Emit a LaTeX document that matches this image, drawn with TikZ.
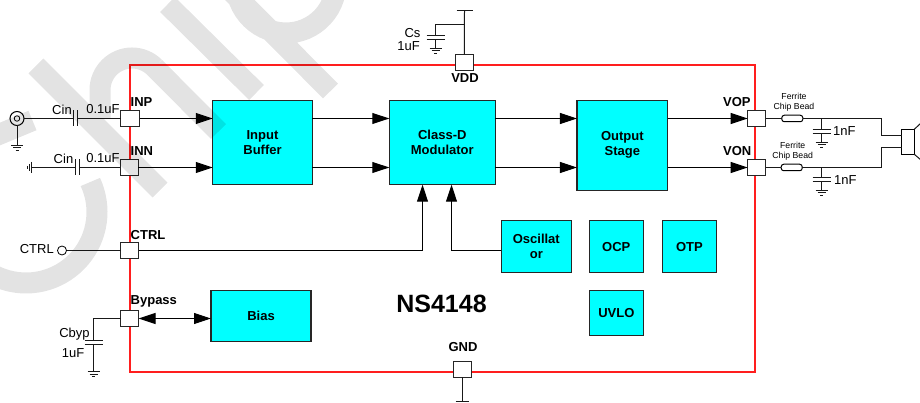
\documentclass[tikz,border=0pt]{standalone}
\usepackage{fontspec}
\setmainfont{Liberation Sans}
\usetikzlibrary{arrows.meta}
\definecolor{blockcyan}{RGB}{0,255,255}
\definecolor{chipred}{RGB}{255,30,30}
\tikzset{
  blockbox/.style={draw=black!85, fill=blockcyan, line width=1.1pt, inner sep=0pt, outer sep=0pt, align=center,
    font=\bfseries\fontsize{13}{15}\selectfont},
  pinbox/.style={draw=black!85, fill=white, line width=1pt, inner sep=0pt, outer sep=0pt, minimum width=18pt, minimum height=16pt},
  pinlabel/.style={inner sep=0pt, font=\bfseries\fontsize{13}{15}\selectfont},
  partlabel/.style={inner sep=0pt, font=\fontsize{13}{15}\selectfont},
  beadlabel/.style={inner sep=0pt, align=center, font=\fontsize{8.7}{10}\selectfont},
  bead/.style={draw, fill=white, line width=1pt, rounded corners=2.5pt, inner sep=0pt, outer sep=0pt, minimum width=21pt, minimum height=6.5pt},
  wire/.style={line width=1pt, black!90},
  sig/.style={line width=1pt, black, -{Triangle[length=17pt,width=11pt]}},
  wmark/.style={line width=21pt, black, opacity=0.11}
}
\begin{document}
\begin{tikzpicture}[x=1pt, y=-1pt]
    \useasboundingbox (0,0) rectangle (920,403);
    % chip outline
    \node[draw=chipred, line width=1.2pt, inner sep=0pt, outer sep=0pt, minimum width=625pt, minimum height=307pt] (chip) at (442.5,218.5) {};
    % blocks
    \node[blockbox, minimum width=99.5pt, minimum height=84pt] (inbuf) at (262.5,142.3) {Input\\Buffer};
    \node[blockbox, minimum width=106pt, minimum height=84.4pt] (classd) at (442.3,142.5) {Class-D\\Modulator};
    \node[blockbox, minimum width=90.7pt, minimum height=90pt] (outstage) at (622.3,145.3) {Output\\Stage};
    \node[blockbox, minimum width=70pt, minimum height=51.3pt] (osc) at (536.3,246.6) {Oscillat\\or};
    \node[blockbox, minimum width=54pt, minimum height=51.3pt] (ocp) at (616.3,246.6) {OCP};
    \node[blockbox, minimum width=53.3pt, minimum height=51.3pt] (otp) at (689.4,246.6) {OTP};
    \node[blockbox, minimum width=54pt, minimum height=45.4pt] (uvlo) at (616.3,313) {UVLO};
    \node[blockbox, minimum width=100pt, minimum height=51.4pt] (bias) at (261,316) {Bias};
    \node[inner sep=0pt, font=\bfseries\fontsize{25}{28}\selectfont] (title) at (441.5,304) {NS4148};
    % pins
    \node[pinbox, minimum width=19pt] (inp) at (130,118.5) {};
    \node[pinbox] (inn) at (129,167.5) {};
    \node[pinbox] (ctrl) at (129.5,250.5) {};
    \node[pinbox] (byp) at (129.5,318.5) {};
    \node[pinbox] (vdd) at (464.3,62.7) {};
    \node[pinbox] (gnd) at (462,369) {};
    \node[pinbox] (vop) at (756.7,118.5) {};
    \node[pinbox] (von) at (756.7,167.5) {};
    \node[pinlabel, anchor=west] (inplabel) at (130.5,102) {INP};
    \node[pinlabel, anchor=west] (innlabel) at (130.5,151) {INN};
    \node[pinlabel, anchor=west] (ctrllabel) at (130.5,235) {CTRL};
    \node[pinlabel, anchor=west] (byplabel) at (130.5,301) {Bypass};
    \node[pinlabel] (vddlabel) at (465,78) {VDD};
    \node[pinlabel] (gndlabel) at (463,347) {GND};
    \node[pinlabel, anchor=west] (voplabel) at (723,102) {VOP};
    \node[pinlabel, anchor=west] (vonlabel) at (723,151) {VON};
    % signal path
    \draw[sig] (inp.east) -- (inbuf.west |- inp);
    \draw[sig] (inn.east) -- (inbuf.west |- inn);
    \draw[sig] (inbuf.east |- inp) -- (classd.west |- inp);
    \draw[sig] (inbuf.east |- inn) -- (classd.west |- inn);
    \draw[sig] (classd.east |- inp) -- (outstage.west |- inp);
    \draw[sig] (classd.east |- inn) -- (outstage.west |- inn);
    \draw[sig] (outstage.east |- vop) -- (vop.west);
    \draw[sig] (outstage.east |- von) -- (von.west);
    \coordinate (ctrlup) at (422.5,250.5);
    \coordinate (oscup) at (451.5,250.5);
    \draw[sig] (ctrl.east) -- (ctrlup) -- (ctrlup |- classd.south);
    \draw[sig] (osc.west |- oscup) -- (oscup) -- (oscup |- classd.south);
    \draw[line width=1pt, black, {Triangle[length=17pt,width=11pt]}-{Triangle[length=17pt,width=11pt]}] (byp.east) -- (bias.west |- byp);
    % input side
    \node[circle, draw, line width=1pt, inner sep=0pt, outer sep=0pt, minimum size=14pt] (src) at (17,118.5) {};
    \node[circle, draw, line width=0.8pt, inner sep=0pt, minimum size=5.5pt] (srcdot) at (src) {};
    \foreach \x/\y in {73.5/118.5,75.5/167.5}
        \draw[wire] (\x,\y-8) -- (\x,\y+8) (\x+4.4,\y-8) -- (\x+4.4,\y+8);
    \coordinate (cinpa) at (73.5,118.5);
    \coordinate (cinpb) at (77.9,118.5);
    \coordinate (cinna) at (75.5,167.5);
    \coordinate (cinnb) at (79.9,167.5);
    \coordinate (srcgnd) at (17,145);
    \coordinate (inngnd) at (31.5,167.5);
    \draw[wire] (src.east) -- (cinpa);
    \draw[wire] (cinpb) -- (inp.west);
    \draw[wire] (src.south) -- (srcgnd);
    \draw[wire] (inngnd) -- (cinna);
    \draw[wire] (cinnb) -- (inn.west);
    \draw[wire] (inngnd) ++(0,-5.5) -- ++(0,11) (inngnd) ++(-2,-3.5) -- ++(0,7) (inngnd) ++(-4,-1.5) -- ++(0,3);
    \node[partlabel] (cinplabel) at (62,110) {Cin};
    \node[partlabel] (cfplabel) at (103,109.5) {0.1uF};
    \node[partlabel] (cinnlabel) at (63.5,159) {Cin};
    \node[partlabel] (cfnlabel) at (103,158) {0.1uF};
    \node[partlabel, anchor=east] (ctrltext) at (54,249) {CTRL};
    \node[circle, draw, line width=0.8pt, inner sep=0pt, outer sep=0pt, minimum size=9pt] (ctrlin) at (62,250.5) {};
    \draw[wire] (ctrlin.east) -- (ctrl.west);
    % bypass and supply caps, and the output filter caps
    \foreach \x/\y in {93.5/340,435.5/35.5,821.5/129.5,821.5/177.5}
        \draw[wire] (\x-9,\y) -- (\x+9,\y) (\x-9,\y+4) -- (\x+9,\y+4);
    \foreach \x/\y in {17/145.5,93.5/371.5,435.5/48.5,821.5/142.5,821.5/190.5}
        \draw[wire, xshift=\x pt, yshift=-\y pt] (-6,0) -- (6,0) (-4,2.5) -- (4,2.5) (-1.5,5) -- (1.5,5);
    \coordinate (cbyptop) at (93.5,340);
    \coordinate (cbypbot) at (93.5,344);
    \coordinate (cbypgnd) at (93.5,371.5);
    \draw[wire] (byp.west) -| (cbyptop);
    \draw[wire] (cbypbot) -- (cbypgnd);
    \node[partlabel, anchor=base] (cbyplabel) at (74.5,337) {Cbyp};
    \node[partlabel] (cbypval) at (73,353) {1uF};
    \coordinate (vddtop) at (464.5,11);
    \coordinate (csjoin) at (464.5,24.5);
    \coordinate (cstop) at (435.5,35.5);
    \coordinate (csbot) at (435.5,39.5);
    \coordinate (csgnd) at (435.5,48.5);
    \draw[wire] (vdd.north) -- (vddtop);
    \draw[wire] (vddtop) ++(-8,0) -- ++(16,0);
    \draw[wire] (csjoin) -| (cstop);
    \draw[wire] (csbot) -- (csgnd);
    \node[partlabel] (cslabel) at (412.5,33) {Cs};
    \node[partlabel] (csval) at (408.5,46) {1uF};
    \coordinate (gndend) at (462,401.5);
    \draw[wire] (gnd.south) -- (gndend);
    \draw[wire] (gndend) ++(-6.5,0) -- ++(13,0);
    % output side
    \node[bead] (beadp) at (792.3,118.5) {};
    \node[bead] (beadn) at (791.7,167.5) {};
    \node[beadlabel] (beadptext) at (794,102) {Ferrite\\Chip Bead};
    \node[beadlabel] (beadntext) at (792.7,151) {Ferrite\\Chip Bead};
    \coordinate (opjoin) at (881.5,118.5);
    \coordinate (onjoin) at (881.5,167.5);
    \coordinate (fpa) at (821.5,118.5);
    \coordinate (fpb) at (821.5,129.5);
    \coordinate (fpc) at (821.5,133.5);
    \coordinate (fpd) at (821.5,142.5);
    \coordinate (fna) at (821.5,167.5);
    \coordinate (fnb) at (821.5,177.5);
    \coordinate (fnc) at (821.5,181.5);
    \coordinate (fnd) at (821.5,190.5);
    \node[draw, line width=1pt, fill=white, inner sep=0pt, outer sep=0pt, minimum width=12.6pt, minimum height=25pt] (spk) at (908,141.8) {};
    \coordinate (spkp) at (spk.west |- 0,135.5);
    \coordinate (spkn) at (spk.west |- 0,147.5);
    \coordinate (conea) at (921,123);
    \coordinate (coneb) at (921,160);
    \draw[wire] (vop.east) -- (beadp.west);
    \draw[wire] (von.east) -- (beadn.west);
    \draw[wire] (beadp.east) -- (opjoin) |- (spkp);
    \draw[wire] (beadn.east) -- (onjoin) |- (spkn);
    \draw[wire] (fpa) -- (fpb) (fpc) -- (fpd);
    \draw[wire] (fna) -- (fnb) (fnc) -- (fnd);
    \draw[wire] (spk.north east) -- (conea);
    \draw[wire] (spk.south east) -- (coneb);
    \node[partlabel, anchor=west] (fpval) at (833,131) {1nF};
    \node[partlabel, anchor=west] (fnval) at (834,180) {1nF};
    % watermark, over everything
    \begin{scope}
    \clip (0,0) rectangle (920,403);
    \draw[wmark]
        (167.5,4.5) -- (256.5,92.5)
        (218.5,131.5) -- (154.6,67.4)
        plot[domain=-45:-180, samples=25] ({132+32*cos(\x)},{90+32*sin(\x)}) -- (100,118)
        (36,66) -- (160,190)
        (218,-22) -- (330.5,91)
        plot[domain=0:360, samples=60] ({286+50*cos(\x)},{-17+50*sin(\x)})
        plot[domain=-25:175, samples=50] ({26+71*cos(\x)},{212+71*sin(\x)})
        (32.5,120.5) -- (-12,139);
    \end{scope}
\end{tikzpicture}
\end{document}
